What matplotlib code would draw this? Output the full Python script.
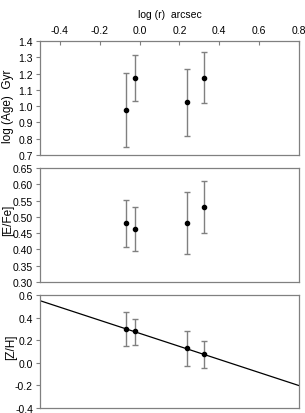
import matplotlib
matplotlib.use("Agg")
import matplotlib.pyplot as plt
import numpy as np

plt.rcParams['font.family'] = ['Liberation Sans', 'DejaVu Sans']
plt.rcParams['font.size'] = 7.5

# radius, log(r) in arcsec
log_r = [-0.067, -0.025, 0.239, 0.325]

# panel 1: log(Age) Gyr
age = [0.975, 1.173, 1.024, 1.173]
age_hi = [1.202, 1.316, 1.230, 1.330]
age_lo = [0.748, 1.030, 0.815, 1.017]

# panel 2: [E/Fe]
efe = [0.481, 0.462, 0.481, 0.531]
efe_hi = [0.553, 0.529, 0.575, 0.611]
efe_lo = [0.407, 0.394, 0.386, 0.449]

# panel 3: [Z/H]
zh = [0.299, 0.279, 0.128, 0.075]
zh_hi = [0.452, 0.388, 0.279, 0.196]
zh_lo = [0.151, 0.160, -0.031, -0.046]

# linear fit drawn over [Z/H]
fit_slope = -0.578
fit_icpt = 0.261
fit_x = [-0.5, 0.8]

x_ticks = [-0.4, -0.2, 0.0, 0.2, 0.4, 0.6, 0.8]

GRAY = '#808080'

fig = plt.figure(figsize=(3.05, 4.14), dpi=100)
left, width = 0.131, 0.849
boxes = [(0.623, 0.2756), (0.3164, 0.2754), (0.0121, 0.2729)]
axs = [fig.add_axes([left, b, width, h]) for b, h in boxes]

panels = [
    (age, age_lo, age_hi, 'log (Age)  Gyr', (0.7, 1.4), np.arange(0.7, 1.41, 0.1), '%.1f', (-0.10, 0.44)),
    (efe, efe_lo, efe_hi, '[E/Fe]', (0.30, 0.65), np.arange(0.30, 0.651, 0.05), '%.2f', (-0.10, 0.55)),
    (zh, zh_lo, zh_hi, '[Z/H]', (-0.4, 0.6), np.arange(-0.4, 0.61, 0.2), '%.1f', (-0.09, 0.55)),
]

for ax, (y, lo, hi, lab, ylim, yt, fmt, lpos) in zip(axs, panels):
    y = np.array(y)
    err = [y - np.array(lo), np.array(hi) - y]
    ax.errorbar(log_r, y, yerr=err, fmt='o', ms=3.0, mfc='black', mec='black',
                ecolor=GRAY, elinewidth=1.0, capsize=2.5, capthick=1.0, zorder=3)
    ax.set_xlim(-0.5, 0.8)
    ax.set_ylim(*ylim)
    ax.set_yticks(yt)
    ax.set_yticklabels([fmt % v for v in yt])
    ax.set_ylabel(lab, fontsize=8.5)
    ax.yaxis.set_label_coords(*lpos)
    for s in ax.spines.values():
        s.set_color(GRAY)
        s.set_linewidth(0.9)
    ax.tick_params(axis='y', direction='out', length=3, width=0.8, color=GRAY, pad=2)
    ax.set_xticks(x_ticks)
    ax.tick_params(axis='x', bottom=False, labelbottom=False)

fx = np.array(fit_x)
axs[2].plot(fx, fit_slope * fx + fit_icpt, color='black', lw=0.9, zorder=2)

top = axs[0]
top.tick_params(axis='x', top=True, labeltop=True, direction='in', length=3,
                width=0.8, color=GRAY, pad=4)
top.set_xticklabels(['%.1f' % v for v in x_ticks])
top.xaxis.set_label_position('top')
top.set_xlabel('log (r)  arcsec', labelpad=6)

fig.savefig('out.png', dpi=100)
